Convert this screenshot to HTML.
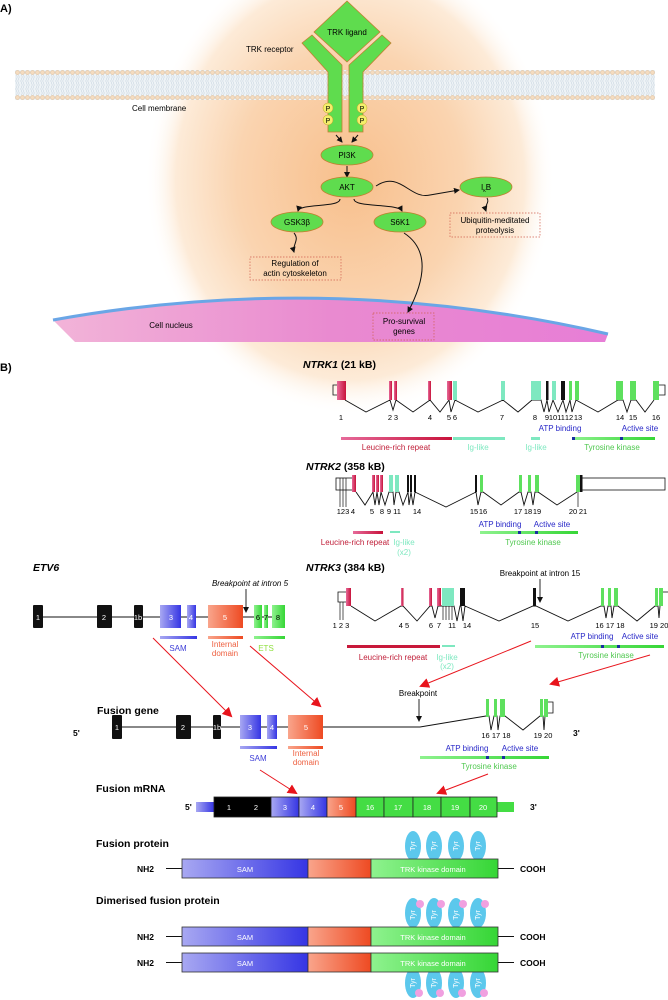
<!DOCTYPE html>
<html><head><meta charset="utf-8"><style>
html,body{margin:0;padding:0;background:#fff}
svg{display:block}
text{font-family:"Liberation Sans",sans-serif}
.s{font-size:8px}
.n{font-size:7.5px;text-anchor:middle}
.w{fill:#fff;font-size:7.5px;text-anchor:middle}
.b{font-weight:bold}
</style></head><body>
<svg width="668" height="1000" viewBox="0 0 668 1000" xmlns="http://www.w3.org/2000/svg">
<defs>
<radialGradient id="glow" cx="0.5" cy="0.5" r="0.5">
<stop offset="0" stop-color="#f8bf8c"/><stop offset="0.55" stop-color="#fad4b0"/><stop offset="0.85" stop-color="#fdebd8"/><stop offset="1" stop-color="#fff" stop-opacity="0"/>
</radialGradient>
<linearGradient id="nuc" x1="0" y1="0" x2="1" y2="0">
<stop offset="0" stop-color="#f2b4d8"/><stop offset="0.5" stop-color="#e98ad0"/><stop offset="1" stop-color="#e77ed6"/>
</linearGradient>
<linearGradient id="blu" x1="0" y1="0" x2="1" y2="0"><stop offset="0" stop-color="#a8a8f2"/><stop offset="1" stop-color="#3535e4"/></linearGradient>
<linearGradient id="org" x1="0" y1="0" x2="1" y2="0"><stop offset="0" stop-color="#f9a58c"/><stop offset="1" stop-color="#ee4a22"/></linearGradient>
<linearGradient id="grn" x1="0" y1="0" x2="1" y2="0"><stop offset="0" stop-color="#8ef28e"/><stop offset="1" stop-color="#36d636"/></linearGradient>
<linearGradient id="pnk" x1="0" y1="0" x2="1" y2="0"><stop offset="0" stop-color="#e66a9a"/><stop offset="1" stop-color="#c8123a"/></linearGradient>
<pattern id="mem" x="0" y="70" width="5" height="30" patternUnits="userSpaceOnUse">
<rect width="5" height="30" fill="#eef3f6"/>
<circle cx="2.5" cy="2.5" r="2" fill="#f5dcc0" stroke="#d9b48a" stroke-width="0.5"/>
<circle cx="2.5" cy="27.5" r="2" fill="#f5dcc0" stroke="#d9b48a" stroke-width="0.5"/>
<path d="M1.5,5 q1.5,2 0,4 q-1.5,2 0,4 q1.5,2 0,4 q-1.5,2 0,4 q1.5,2 0,4 M3.5,5 q1.5,2 0,4 q-1.5,2 0,4 q1.5,2 0,4 q-1.5,2 0,4 q1.5,2 0,4" fill="none" stroke="#b8c8d6" stroke-width="0.4"/>
</pattern>
<marker id="ah" markerWidth="6" markerHeight="6" refX="5" refY="3" orient="auto" markerUnits="userSpaceOnUse"><path d="M0,0 L6,3 L0,6 z" fill="#111"/></marker>
<marker id="rh" markerWidth="10" markerHeight="10" refX="8" refY="5" orient="auto" markerUnits="userSpaceOnUse"><path d="M0,0 L10,5 L0,10 z" fill="#e8141c"/></marker>
</defs>

<!-- PART A -->
<ellipse cx="350" cy="180" rx="205" ry="235" fill="url(#glow)"/>
<text x="0" y="12" class="b" font-size="11">A)</text>
<rect x="15" y="70" width="640" height="30" fill="url(#mem)"/>
<path d="M53,320 Q330,270 608,334 L605,342 L75,342 Z" fill="url(#nuc)"/>
<path d="M53,320 Q330,270 608,334" fill="none" stroke="#6aa6e6" stroke-width="3"/>
<polygon points="347,1 380,32 347,62 314,32" fill="#5fdc4e" stroke="#c08030" stroke-width="0.8"/>
<text x="347" y="35" font-size="8" text-anchor="middle">TRK ligand</text>
<polygon points="302,43 312,35 342,65 342,132 328,132 328,72" fill="#5fdc4e" stroke="#c08030" stroke-width="0.8"/>
<polygon points="391,43 382,35 349,65 349,132 363,132 363,72" fill="#5fdc4e" stroke="#c08030" stroke-width="0.8"/>
<text x="246" y="52" class="s">TRK receptor</text>
<text x="132" y="111" class="s">Cell membrane</text>
<g fill="#f4ef6a" stroke="#c0a030" stroke-width="0.5">
<circle cx="328" cy="108" r="5"/><circle cx="328" cy="120" r="5"/><circle cx="362" cy="108" r="5"/><circle cx="362" cy="120" r="5"/></g>
<g font-size="7" text-anchor="middle"><text x="328" y="111">P</text><text x="328" y="123">P</text><text x="362" y="111">P</text><text x="362" y="123">P</text></g>
<g fill="none" stroke="#111" stroke-width="1" marker-end="url(#ah)">
<path d="M336,135 L342,142"/><path d="M358,135 L352,142"/>
<path d="M347,166 L347,177"/>
<path d="M376,186 C400,170 410,200 430,195 L459,190"/>
<path d="M340,199 C340,208 300,203 298,211"/>
<path d="M354,199 C354,208 398,203 402,211"/>
<path d="M294,233 C300,240 292,245 294,252"/>
<path d="M487,198 C490,203 484,205 486,211"/>
<path d="M404,233 C430,250 425,280 408,312"/>
</g>
<g fill="#5fdc4e" stroke="#c08030" stroke-width="0.8">
<ellipse cx="347" cy="155" rx="26" ry="10"/><ellipse cx="347" cy="187" rx="26" ry="10"/>
<ellipse cx="486" cy="187" rx="26" ry="10"/><ellipse cx="297" cy="222" rx="26" ry="10"/><ellipse cx="400" cy="222" rx="26" ry="10"/></g>
<g font-size="8" text-anchor="middle">
<text x="347" y="158">PI3K</text><text x="347" y="190">AKT</text><text x="486" y="190">I<tspan font-size="5" dy="2">κ</tspan><tspan dy="-2">B</tspan></text>
<text x="297" y="225">GSK3β</text><text x="400" y="225">S6K1</text></g>
<g fill="none" stroke="#d06050" stroke-width="0.7" stroke-dasharray="1.5,1.5">
<rect x="450" y="213" width="90" height="24"/><rect x="250" y="257" width="91" height="23"/><rect x="373" y="313" width="61" height="27"/></g>
<g font-size="8" text-anchor="middle">
<text x="495" y="223">Ubiquitin-meditated</text><text x="495" y="233">proteolysis</text>
<text x="295" y="266">Regulation of</text><text x="295" y="276">actin cytoskeleton</text>
<text x="404" y="324">Pro-survival</text><text x="404" y="334">genes</text>
<text x="171" y="328">Cell nucleus</text></g>

<!-- PART B -->
<text x="0" y="371" class="b" font-size="11">B)</text>

<!-- NTRK1 -->
<text x="303" y="368" class="b" font-size="10.5"><tspan font-style="italic">NTRK1</tspan> (21 kB)</text>
<path d="M337,385 H333 V395 H337" fill="none" stroke="#111" stroke-width="0.8"/>
<path d="M659,385 H665 V395 H659" fill="none" stroke="#111" stroke-width="0.8"/>
<polyline fill="none" stroke="#111" stroke-width="0.9" points="345,400 366,412 390,400 393,410 396,400 413,412 430,400 440,412 449,400 451,412 455,400 478,412 503,400 518,412 532,400 541,400 544,412 547,400 549,412 553,400 558,412 563,400 566,412 570,400 572,412 576,400 598,412 618,400 623,400 627,412 631,400 636,400 645,412 654,400"/>
<g fill="url(#pnk)"><rect x="337" y="381" width="9" height="19"/><rect x="389" y="381" width="3" height="19"/><rect x="394" y="381" width="3" height="19"/><rect x="428" y="381" width="3" height="19"/><rect x="447" y="381" width="5" height="19"/></g>
<g fill="#7ee8c0"><rect x="453" y="381" width="4" height="19"/><rect x="501" y="381" width="4" height="19"/><rect x="531" y="381" width="10" height="19"/><rect x="552" y="381" width="4" height="19"/></g>
<g fill="#111"><rect x="546" y="381" width="2.5" height="19"/><rect x="561" y="381" width="4" height="19"/></g>
<g fill="#5ee05e"><rect x="569" y="381" width="3" height="19"/><rect x="575" y="381" width="4" height="19"/><rect x="616" y="381" width="7" height="19"/><rect x="630" y="381" width="6" height="19"/><rect x="653" y="381" width="6" height="19"/></g>
<g class="n"><text x="341" y="420">1</text><text x="390" y="420">2</text><text x="396" y="420">3</text><text x="430" y="420">4</text><text x="449" y="420">5</text><text x="455" y="420">6</text><text x="502" y="420">7</text><text x="535" y="420">8</text><text x="547" y="420">9</text><text x="553" y="420">10</text><text x="561" y="420">11</text><text x="569" y="420">12</text><text x="578" y="420">13</text><text x="620" y="420">14</text><text x="633" y="420">15</text><text x="656" y="420">16</text></g>
<g font-size="8" fill="#2828c8" text-anchor="middle"><text x="560" y="431">ATP binding</text><text x="640" y="431">Active site</text></g>
<rect x="341" y="437" width="111" height="3" fill="url(#pnk)"/>
<rect x="453" y="437" width="52" height="3" fill="#7ee8c0"/><rect x="531" y="437" width="9" height="3" fill="#7ee8c0"/>
<rect x="572" y="437" width="83" height="3" fill="url(#grn)"/>
<rect x="572" y="437" width="3" height="3" fill="#1830a0"/><rect x="620" y="437" width="3" height="3" fill="#1830a0"/>
<g font-size="8" text-anchor="middle"><text x="396" y="450" fill="#c0203a">Leucine-rich repeat</text><text x="478" y="450" fill="#7ee8c0">Ig-like</text><text x="536" y="450" fill="#7ee8c0">Ig-like</text><text x="612" y="450" fill="#50c850">Tyrosine kinase</text></g>

<!-- NTRK2 -->
<text x="306" y="470" class="b" font-size="10.5"><tspan font-style="italic">NTRK2</tspan> (358 kB)</text>
<rect x="336" y="478" width="17" height="12" fill="#fff" stroke="#111" stroke-width="0.8"/>
<rect x="580" y="478" width="85" height="12" fill="#fff" stroke="#111" stroke-width="0.8"/>
<path d="M340,478 V507 M343,478 V507 M346,478 V507" stroke="#111" stroke-width="0.7"/>
<polyline fill="none" stroke="#111" stroke-width="0.9" points="356,492 365,505 373,492 375,505 377,492 379,505 381,492 385,505 389,492 393,492 394,505 396,492 399,492 403,505 408,492 409,505 411,492 413,505 415,492 446,507 476,492 478,505 481,492 483,492 501,505 519,492 521,492 524,505 528,492 531,492 533,505 535,492 538,492 557,505 577,492"/>
<g fill="url(#pnk)"><rect x="352" y="475" width="4" height="17"/><rect x="372" y="475" width="3" height="17"/><rect x="376" y="475" width="3" height="17"/><rect x="380" y="475" width="3" height="17"/></g>
<g fill="#7ee8c0"><rect x="389" y="475" width="4" height="17"/><rect x="395" y="475" width="4" height="17"/></g>
<g fill="#111"><rect x="407" y="475" width="2" height="17"/><rect x="410" y="475" width="2" height="17"/><rect x="414" y="475" width="2" height="17"/><rect x="475" y="475" width="2" height="17"/><rect x="580" y="475" width="2.5" height="17"/></g>
<g fill="#5ee05e"><rect x="480" y="475" width="3" height="17"/><rect x="519" y="475" width="3" height="17"/><rect x="528" y="475" width="3" height="17"/><rect x="535" y="475" width="4" height="17"/><rect x="576" y="475" width="4" height="17"/></g>
<path d="M578,492 V507" stroke="#111" stroke-width="0.7"/>
<g class="n"><text x="343" y="514">123</text><text x="353" y="514">4</text><text x="372" y="514">5</text><text x="382" y="514">8</text><text x="389" y="514">9</text><text x="397" y="514">11</text><text x="417" y="514">14</text><text x="474" y="514">15</text><text x="483" y="514">16</text><text x="518" y="514">17</text><text x="528" y="514">18</text><text x="537" y="514">19</text><text x="573" y="514">20</text><text x="583" y="514">21</text></g>
<g font-size="8" fill="#2828c8" text-anchor="middle"><text x="500" y="527">ATP binding</text><text x="552" y="527">Active site</text></g>
<rect x="353" y="531" width="30" height="3" fill="url(#pnk)"/><rect x="390" y="531" width="10" height="2" fill="#7ee8c0"/>
<rect x="480" y="531" width="98" height="3" fill="url(#grn)"/>
<rect x="518" y="531" width="3" height="3" fill="#1830a0"/><rect x="535" y="531" width="3" height="3" fill="#1830a0"/>
<g font-size="8" text-anchor="middle"><text x="355" y="545" fill="#c0203a">Leucine-rich repeat</text><text x="404" y="545" fill="#7ee8c0">Ig-like</text><text x="404" y="555" fill="#7ee8c0">(x2)</text><text x="533" y="545" fill="#50c850">Tyrosine kinase</text></g>

<!-- NTRK3 -->
<text x="306" y="571" class="b" font-size="10.5"><tspan font-style="italic">NTRK3</tspan> (384 kB)</text>
<text x="540" y="576" font-size="8" text-anchor="middle">Breakpoint at intron 15</text>
<path d="M540,579 V602" stroke="#111" stroke-width="0.9" marker-end="url(#ah)"/>
<path d="M346,592 H338 V602 H346" fill="none" stroke="#111" stroke-width="0.8"/>
<path d="M340,602 V620 M343,602 V620 M443,606 V620 M446,606 V620 M449,606 V620 M452,606 V620" stroke="#111" stroke-width="0.7"/>
<polyline fill="none" stroke="#111" stroke-width="0.9" points="351,606 375,621 401,606 403,606 417,621 430,606 432,606 435,618 438,606 441,606 454,606 457,621 460,606 461,606 463,621 465,606 499,621 533,606 536,606 568,621 601,606 604,606 606,618 608,606 611,606 612,618 614,606 618,606 637,621 655,606 658,606 659,618 660,606"/>
<g fill="url(#pnk)"><rect x="346" y="588" width="5" height="18"/><rect x="401" y="588" width="2.5" height="18"/><rect x="429" y="588" width="3" height="18"/><rect x="437" y="588" width="4" height="18"/></g>
<rect x="442" y="588" width="12" height="18" fill="#7ee8c0"/>
<g fill="#111"><rect x="460" y="588" width="5" height="18"/><rect x="533" y="588" width="3" height="18"/></g>
<g fill="#5ee05e"><rect x="601" y="588" width="3" height="18"/><rect x="608" y="588" width="3" height="18"/><rect x="614" y="588" width="4" height="18"/><rect x="655" y="588" width="3" height="18"/><rect x="659" y="588" width="4" height="18"/></g>
<path d="M663,592 H668" stroke="#111" stroke-width="0.8"/>
<g class="n"><text x="341" y="628">1 2 3</text><text x="404" y="628">4 5</text><text x="431" y="628">6</text><text x="439" y="628">7</text><text x="452" y="628">11</text><text x="467" y="628">14</text><text x="535" y="628">15</text><text x="610" y="628">16 17 18</text><text x="659" y="628">19 20</text></g>
<g font-size="8" fill="#2828c8" text-anchor="middle"><text x="592" y="639">ATP binding</text><text x="640" y="639">Active site</text></g>
<rect x="347" y="645" width="93" height="3" fill="#c8183a"/><rect x="442" y="645" width="13" height="2" fill="#7ee8c0"/>
<rect x="535" y="645" width="129" height="3" fill="url(#grn)"/>
<rect x="601" y="645" width="3" height="3" fill="#1830a0"/><rect x="617" y="645" width="3" height="3" fill="#1830a0"/>
<g font-size="8" text-anchor="middle"><text x="393" y="660" fill="#c0203a">Leucine-rich repeat</text><text x="447" y="660" fill="#7ee8c0">Ig-like</text><text x="447" y="669" fill="#7ee8c0">(x2)</text><text x="606" y="658" fill="#50c850">Tyrosine kinase</text></g>

<!-- ETV6 -->
<text x="33" y="571" class="b" font-size="10.5" font-style="italic">ETV6</text>
<text x="250" y="586" font-size="8" font-style="italic" text-anchor="middle">Breakpoint at intron 5</text>
<path d="M246,589 V612" stroke="#111" stroke-width="0.9" marker-end="url(#ah)"/>
<line x1="38" y1="617" x2="280" y2="617" stroke="#111" stroke-width="0.9"/>
<g fill="#111"><rect x="33" y="605" width="10" height="23" rx="1"/><rect x="97" y="605" width="15" height="23" rx="1"/><rect x="134" y="605" width="9" height="23" rx="1"/></g>
<rect x="160" y="605" width="21" height="23" fill="url(#blu)"/><rect x="187" y="605" width="9" height="23" fill="url(#blu)"/>
<rect x="208" y="605" width="35" height="23" fill="url(#org)"/>
<g fill="url(#grn)"><rect x="254" y="605" width="8" height="23"/><rect x="264" y="605" width="4" height="23"/><rect x="272" y="605" width="13" height="23"/></g>
<g class="w"><text x="38" y="620">1</text><text x="104" y="620">2</text><text x="138" y="620">1b</text><text x="171" y="620">3</text><text x="191" y="620">4</text><text x="225" y="620">5</text></g>
<g class="n"><text x="258" y="620">6</text><text x="266" y="620">7</text><text x="278" y="620">8</text></g>
<rect x="160" y="636" width="37" height="3" fill="url(#blu)"/><rect x="208" y="636" width="35" height="3" fill="url(#org)"/><rect x="254" y="636" width="31" height="3" fill="url(#grn)"/>
<g font-size="8" text-anchor="middle"><text x="178" y="651" fill="#4040d8">SAM</text><text x="225" y="647" fill="#ee6040">Internal</text><text x="225" y="656" fill="#ee6040">domain</text><text x="266" y="651" fill="#90e040">ETS</text></g>

<!-- red arrows -->
<g stroke="#e8141c" stroke-width="1" marker-end="url(#rh)">
<line x1="153" y1="638" x2="231" y2="716"/><line x1="250" y1="646" x2="320" y2="706"/>
<line x1="531" y1="641" x2="421" y2="686"/><line x1="650" y1="655" x2="551" y2="684"/>
<line x1="260" y1="770" x2="296" y2="793"/><line x1="488" y1="774" x2="438" y2="793"/>
</g>

<!-- Fusion gene -->
<text x="97" y="714" class="b" font-size="10.5">Fusion gene</text>
<text x="73" y="736" class="b" font-size="8.5">5'</text>
<text x="573" y="736" class="b" font-size="8.5">3'</text>
<text x="418" y="696" font-size="8" text-anchor="middle">Breakpoint</text>
<path d="M419,699 V721" stroke="#111" stroke-width="0.9" marker-end="url(#ah)"/>
<polyline fill="none" stroke="#111" stroke-width="0.9" points="117,727 420,727 486,716 489,716 491,730 494,716 497,716 498,730 500,716 505,716 523,730 540,716 543,716 544,730 545,716"/>
<path d="M548,702 H553 V713 H548" fill="none" stroke="#111" stroke-width="0.8"/>
<g fill="#111"><rect x="112" y="715" width="10" height="24" rx="1"/><rect x="176" y="715" width="15" height="24" rx="1"/><rect x="213" y="715" width="8" height="24" rx="1"/></g>
<rect x="240" y="715" width="21" height="24" fill="url(#blu)"/><rect x="267" y="715" width="10" height="24" fill="url(#blu)"/>
<rect x="288" y="715" width="35" height="24" fill="url(#org)"/>
<g fill="#5ee05e"><rect x="486" y="699" width="3" height="18"/><rect x="494" y="699" width="3" height="18"/><rect x="500" y="699" width="5" height="18"/><rect x="540" y="699" width="3" height="18"/><rect x="544" y="699" width="4" height="18"/></g>
<g class="w"><text x="117" y="730">1</text><text x="183" y="730">2</text><text x="217" y="730">1b</text><text x="250" y="730">3</text><text x="272" y="730">4</text><text x="306" y="730">5</text></g>
<g class="n"><text x="496" y="738">16 17 18</text><text x="543" y="738">19 20</text></g>
<rect x="240" y="746" width="37" height="3" fill="url(#blu)"/><rect x="288" y="746" width="35" height="3" fill="url(#org)"/>
<g font-size="8" text-anchor="middle"><text x="258" y="761" fill="#4040d8">SAM</text><text x="306" y="756" fill="#ee6040">Internal</text><text x="306" y="765" fill="#ee6040">domain</text></g>
<g font-size="8" fill="#2828c8" text-anchor="middle"><text x="467" y="751">ATP binding</text><text x="520" y="751">Active site</text></g>
<rect x="420" y="756" width="129" height="3" fill="url(#grn)"/>
<rect x="486" y="756" width="3" height="3" fill="#1830a0"/><rect x="502" y="756" width="3" height="3" fill="#1830a0"/>
<text x="489" y="769" font-size="8" fill="#50c850" text-anchor="middle">Tyrosine kinase</text>

<!-- Fusion mRNA -->
<text x="96" y="792" class="b" font-size="10.5">Fusion mRNA</text>
<text x="185" y="810" class="b" font-size="8.5">5'</text>
<text x="530" y="810" class="b" font-size="8.5">3'</text>
<rect x="196" y="802" width="18" height="10" fill="url(#blu)"/>
<rect x="497" y="802" width="17" height="10" fill="#44dd44"/>
<g stroke="#222" stroke-width="0.8">
<rect x="214" y="797" width="57" height="20" fill="#000"/>
<rect x="271" y="797" width="28" height="20" fill="url(#blu)"/><rect x="299" y="797" width="28" height="20" fill="url(#blu)"/>
<rect x="327" y="797" width="29" height="20" fill="url(#org)"/>
<rect x="356" y="797" width="28" height="20" fill="#44dd44"/><rect x="384" y="797" width="29" height="20" fill="#44dd44"/><rect x="413" y="797" width="28" height="20" fill="#44dd44"/><rect x="441" y="797" width="29" height="20" fill="#44dd44"/><rect x="470" y="797" width="27" height="20" fill="#44dd44"/>
</g>
<g class="w"><text x="229" y="810">1</text><text x="256" y="810">2</text><text x="285" y="810">3</text><text x="313" y="810">4</text><text x="341" y="810">5</text><text x="370" y="810">16</text><text x="398" y="810">17</text><text x="427" y="810">18</text><text x="455" y="810">19</text><text x="483" y="810">20</text></g>

<!-- Fusion protein -->
<text x="96" y="847" class="b" font-size="10.5">Fusion protein</text>
<g fill="#5cc8ec"><ellipse cx="413" cy="846" rx="8" ry="15"/><ellipse cx="434" cy="846" rx="8" ry="15"/><ellipse cx="456" cy="846" rx="8" ry="15"/><ellipse cx="478" cy="846" rx="8" ry="15"/></g>
<g font-size="7" fill="#fff" text-anchor="middle"><text transform="translate(415,846) rotate(-90)">Tyr</text><text transform="translate(436,846) rotate(-90)">Tyr</text><text transform="translate(458,846) rotate(-90)">Tyr</text><text transform="translate(480,846) rotate(-90)">Tyr</text></g>

<g>
<text x="137" y="872" class="b" font-size="8.5">NH2</text>
<line x1="166" y1="868.5" x2="182" y2="868.5" stroke="#111"/><line x1="498" y1="868.5" x2="514" y2="868.5" stroke="#111"/>
<text x="520" y="872" class="b" font-size="8.5">COOH</text>
<g stroke="#333" stroke-width="0.8"><rect x="182" y="859" width="126" height="19" fill="url(#blu)"/><rect x="308" y="859" width="63" height="19" fill="url(#org)"/><rect x="371" y="859" width="127" height="19" fill="url(#grn)"/></g>
<text x="245" y="872" class="w" font-size="8">SAM</text><text x="433" y="872" class="w" font-size="8">TRK kinase domain</text>
</g>

<!-- Dimerised -->
<text x="96" y="904" class="b" font-size="10.5">Dimerised fusion protein</text>
<g fill="#5cc8ec"><ellipse cx="413" cy="913" rx="8" ry="15"/><ellipse cx="434" cy="913" rx="8" ry="15"/><ellipse cx="456" cy="913" rx="8" ry="15"/><ellipse cx="478" cy="913" rx="8" ry="15"/>
<ellipse cx="413" cy="983" rx="8" ry="15"/><ellipse cx="434" cy="983" rx="8" ry="15"/><ellipse cx="456" cy="983" rx="8" ry="15"/><ellipse cx="478" cy="983" rx="8" ry="15"/></g>
<g fill="#f0a0e0"><circle cx="420" cy="904" r="4"/><circle cx="441" cy="904" r="4"/><circle cx="463" cy="904" r="4"/><circle cx="485" cy="904" r="4"/>
<circle cx="419" cy="993" r="4"/><circle cx="440" cy="993" r="4"/><circle cx="462" cy="993" r="4"/><circle cx="484" cy="993" r="4"/></g>
<g font-size="7" fill="#fff" text-anchor="middle"><text transform="translate(415,915) rotate(-90)">Tyr</text><text transform="translate(436,915) rotate(-90)">Tyr</text><text transform="translate(458,915) rotate(-90)">Tyr</text><text transform="translate(480,915) rotate(-90)">Tyr</text>
<text transform="translate(415,983) rotate(-90)">Tyr</text><text transform="translate(436,983) rotate(-90)">Tyr</text><text transform="translate(458,983) rotate(-90)">Tyr</text><text transform="translate(480,983) rotate(-90)">Tyr</text></g>
<g transform="translate(0,68)">
<text x="137" y="872" class="b" font-size="8.5">NH2</text>
<line x1="166" y1="868.5" x2="182" y2="868.5" stroke="#111"/><line x1="498" y1="868.5" x2="514" y2="868.5" stroke="#111"/>
<text x="520" y="872" class="b" font-size="8.5">COOH</text>
<g stroke="#333" stroke-width="0.8"><rect x="182" y="859" width="126" height="19" fill="url(#blu)"/><rect x="308" y="859" width="63" height="19" fill="url(#org)"/><rect x="371" y="859" width="127" height="19" fill="url(#grn)"/></g>
<text x="245" y="872" class="w" font-size="8">SAM</text><text x="433" y="872" class="w" font-size="8">TRK kinase domain</text>
</g>
<g transform="translate(0,94)">
<text x="137" y="872" class="b" font-size="8.5">NH2</text>
<line x1="166" y1="868.5" x2="182" y2="868.5" stroke="#111"/><line x1="498" y1="868.5" x2="514" y2="868.5" stroke="#111"/>
<text x="520" y="872" class="b" font-size="8.5">COOH</text>
<g stroke="#333" stroke-width="0.8"><rect x="182" y="859" width="126" height="19" fill="url(#blu)"/><rect x="308" y="859" width="63" height="19" fill="url(#org)"/><rect x="371" y="859" width="127" height="19" fill="url(#grn)"/></g>
<text x="245" y="872" class="w" font-size="8">SAM</text><text x="433" y="872" class="w" font-size="8">TRK kinase domain</text>
</g>
</svg>
</body></html>
